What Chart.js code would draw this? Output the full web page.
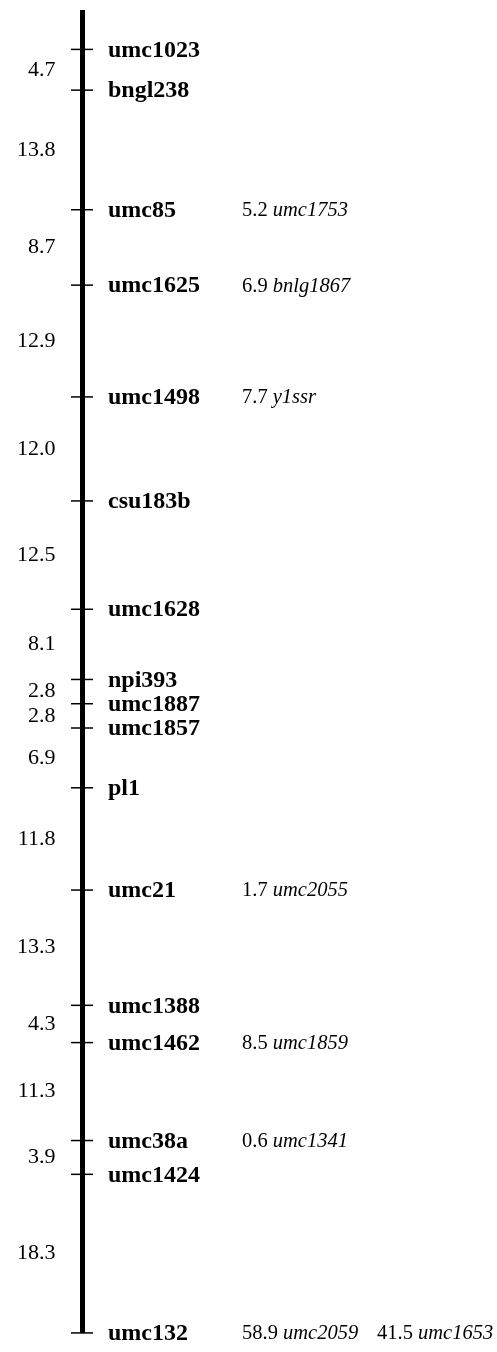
<!DOCTYPE html>
<html>
<head>
<meta charset="utf-8">
<title>Linkage map</title>
<script src="https://cdn.jsdelivr.net/npm/chart.js@4"></script>
<style>
  html, body { margin: 0; padding: 0; background: #fff; }
  #wrap { width: 497px; height: 1352px; }
</style>
</head>
<body>
<div id="wrap"><canvas id="map" width="497" height="1352"></canvas></div>
<script>
// markers along the chromosome, top to bottom
const markers = ['umc1023', 'bngl238', 'umc85', 'umc1625', 'umc1498', 'csu183b', 'umc1628',
  'npi393', 'umc1887', 'umc1857', 'pl1', 'umc21', 'umc1388', 'umc1462', 'umc38a', 'umc1424', 'umc132'];
// distances (cM) between neighbouring markers
const intervals = [4.7, 13.8, 8.7, 12.9, 12.0, 12.5, 8.1, 2.8, 2.8, 6.9, 11.8, 13.3, 4.3, 11.3, 3.9, 18.3];

// side markers: anchor marker, distance, name
const sideAnchor = ['umc85', 'umc1625', 'umc1498', 'umc21', 'umc1462', 'umc38a', 'umc132', 'umc132'];
const sideDist = ['5.2', '6.9', '7.7', '1.7', '8.5', '0.6', '58.9', '41.5'];
const sideName = ['umc1753', 'bnlg1867', 'y1ssr', 'umc2055', 'umc1859', 'umc1341', 'umc2059', 'umc1653'];
const sideColumn = [0, 0, 0, 0, 0, 0, 0, 1];

// cumulative positions
const positions = [0];
intervals.forEach((d, i) => positions.push(+(positions[i] + d).toFixed(1)));
const mapEnd = positions[positions.length - 1];

const BAR_X = 82.5;
const serif = '"Liberation Serif", "Times New Roman", serif';

const labelPlugin = {
  id: 'mapLabels',
  afterDatasetsDraw(chart) {
    const ctx = chart.ctx;
    const ys = chart.scales.y;
    const xs = chart.scales.x;
    ctx.save();
    ctx.fillStyle = '#000';
    ctx.textBaseline = 'middle';

    // marker names
    ctx.font = 'bold 24px ' + serif;
    ctx.textAlign = 'left';
    markers.forEach((m, i) => {
      ctx.fillText(m, xs.getPixelForValue(108), ys.getPixelForValue(positions[i]) + 1);
    });

    // interval distances
    ctx.font = '22px ' + serif;
    ctx.textAlign = 'right';
    intervals.forEach((d, i) => {
      const mid = (positions[i] + positions[i + 1]) / 2;
      ctx.fillText(d.toFixed(1), xs.getPixelForValue(55.5), ys.getPixelForValue(mid));
    });

    // side markers
    ctx.textAlign = 'left';
    sideAnchor.forEach((a, i) => {
      const y = ys.getPixelForValue(positions[markers.indexOf(a)]) + 1;
      let x = xs.getPixelForValue(sideColumn[i] === 0 ? 242 : 377);
      ctx.font = '20.5px ' + serif;
      const num = sideDist[i] + ' ';
      ctx.fillText(num, x, y);
      x += ctx.measureText(num).width;
      ctx.font = 'italic 20.5px ' + serif;
      ctx.fillText(sideName[i], x, y);
    });
    ctx.restore();
  }
};

new Chart(document.getElementById('map').getContext('2d'), {
  type: 'scatter',
  data: {
    datasets: [
      {
        // chromosome bar
        type: 'line',
        data: [{ x: BAR_X, y: -4.55 }, { x: BAR_X, y: mapEnd }],
        borderColor: '#000',
        borderWidth: 5,
        borderCapStyle: 'butt',
        pointRadius: 0,
        fill: false
      },
      {
        // marker ticks
        data: positions.map(p => ({ x: BAR_X - 0.5, y: p })),
        pointStyle: 'line',
        pointRadius: 11,
        borderColor: '#000',
        borderWidth: 1.5,
        backgroundColor: '#000'
      }
    ]
  },
  options: {
    responsive: false,
    animation: false,
    layout: { padding: 0, autoPadding: false },
    plugins: { legend: { display: false }, tooltip: { enabled: false } },
    scales: {
      x: { type: 'linear', min: 0, max: 497, display: false },
      y: { type: 'linear', min: -5.7, max: 150.3, reverse: true, display: false }
    }
  },
  plugins: [labelPlugin]
});
</script>
</body>
</html>
